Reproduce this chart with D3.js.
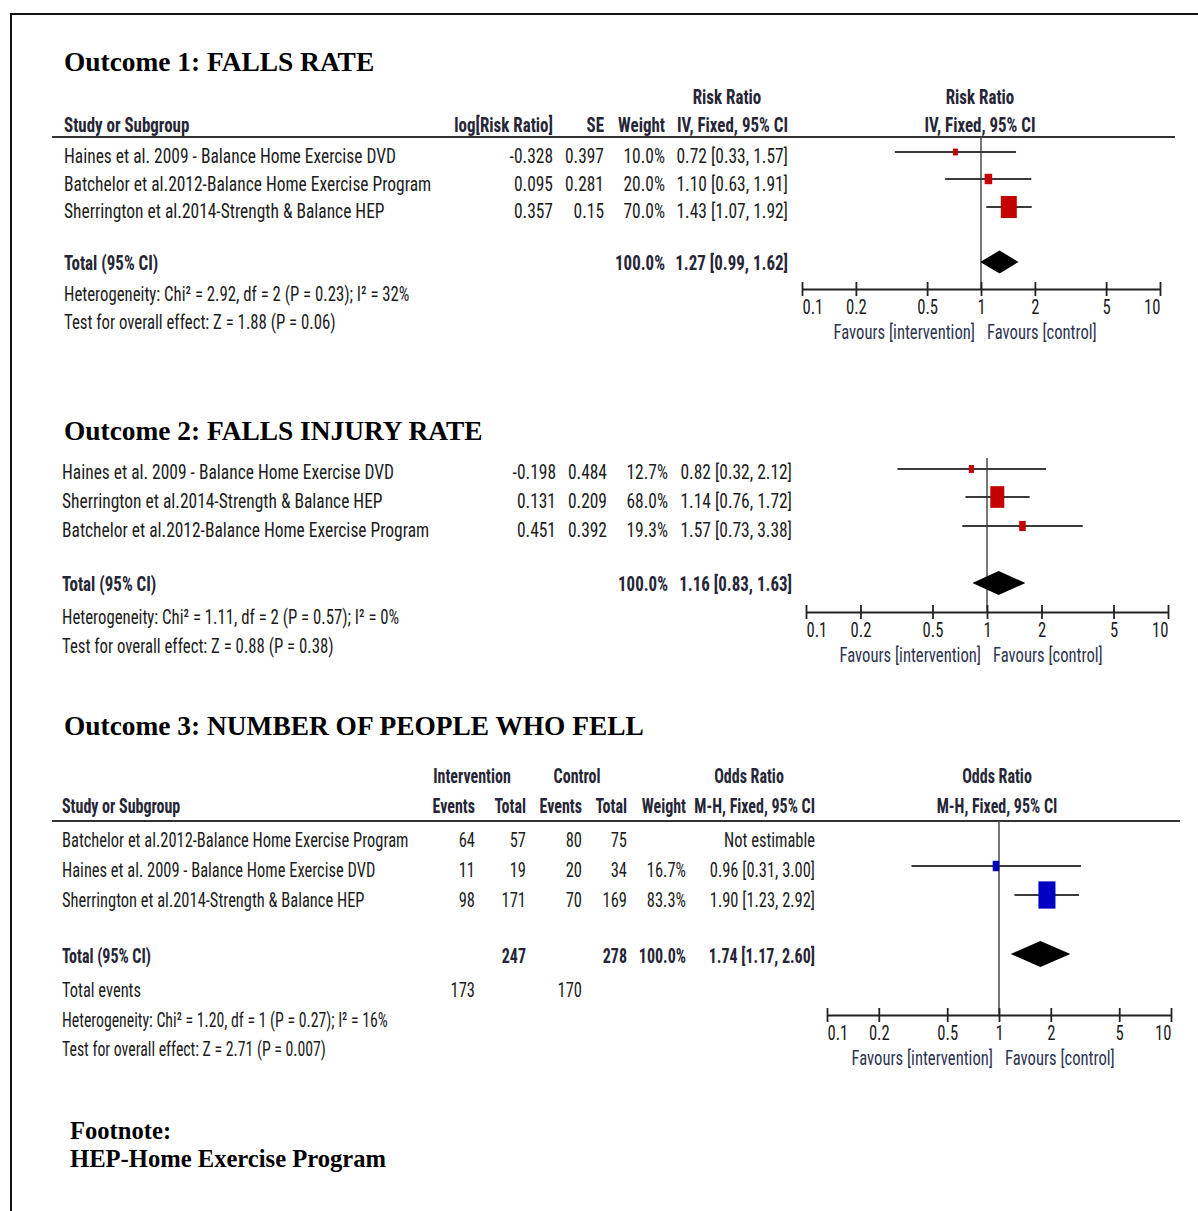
<!DOCTYPE html>
<html><head><meta charset="utf-8">
<script src="https://cdn.jsdelivr.net/npm/d3@7"></script>
<style>
html,body{margin:0;padding:0;background:#fff;}
svg{display:block;}
.nar{font-family:"Liberation Sans Narrow","Arial Narrow","Roboto Condensed",Roboto,sans-serif;}
.ser{font-family:"Liberation Serif","Times New Roman",serif;font-weight:bold;}
</style></head><body>
<svg id="chart" width="1198" height="1211"></svg>
<script>
// ---- Outcome 1: falls rate (inverse variance, risk ratio) ----
const o1Studies = ["Haines et al. 2009 - Balance Home Exercise DVD",
                   "Batchelor et al.2012-Balance Home Exercise Program",
                   "Sherrington et al.2014-Strength & Balance HEP"];
const o1LogRR  = ["-0.328", "0.095", "0.357"];
const o1SE     = ["0.397", "0.281", "0.15"];
const o1Weight = [10.0, 20.0, 70.0];
const o1RR     = [0.72, 1.10, 1.43];
const o1Lo     = [0.33, 0.63, 1.07];
const o1Hi     = [1.57, 1.91, 1.92];
const o1Total  = [1.27, 0.99, 1.62];
const o1Het    = "Heterogeneity: Chi\u00b2 = 2.92, df = 2 (P = 0.23); I\u00b2 = 32%";
const o1Test   = "Test for overall effect: Z = 1.88 (P = 0.06)";

// ---- Outcome 2: falls injury rate ----
const o2Studies = ["Haines et al. 2009 - Balance Home Exercise DVD",
                   "Sherrington et al.2014-Strength & Balance HEP",
                   "Batchelor et al.2012-Balance Home Exercise Program"];
const o2LogRR  = ["-0.198", "0.131", "0.451"];
const o2SE     = ["0.484", "0.209", "0.392"];
const o2Weight = [12.7, 68.0, 19.3];
const o2RR     = [0.82, 1.14, 1.57];
const o2Lo     = [0.32, 0.76, 0.73];
const o2Hi     = [2.12, 1.72, 3.38];
const o2Total  = [1.16, 0.83, 1.63];
const o2Het    = "Heterogeneity: Chi\u00b2 = 1.11, df = 2 (P = 0.57); I\u00b2 = 0%";
const o2Test   = "Test for overall effect: Z = 0.88 (P = 0.38)";

// ---- Outcome 3: number of people who fell (M-H, odds ratio) ----
const o3Studies = ["Batchelor et al.2012-Balance Home Exercise Program",
                   "Haines et al. 2009 - Balance Home Exercise DVD",
                   "Sherrington et al.2014-Strength & Balance HEP"];
const o3IntEvents  = [64, 11, 98];
const o3IntTotal   = [57, 19, 171];
const o3CtrlEvents = [80, 20, 70];
const o3CtrlTotal  = [75, 34, 169];
const o3Weight = [null, 16.7, 83.3];
const o3OR     = [null, 0.96, 1.90];
const o3Lo     = [null, 0.31, 1.23];
const o3Hi     = [null, 3.00, 2.92];
const o3Total  = [1.74, 1.17, 2.60];
const o3TotalN = [247, 278];
const o3TotalEvents = [173, 170];
const o3Het    = "Heterogeneity: Chi\u00b2 = 1.20, df = 1 (P = 0.27); I\u00b2 = 16%";
const o3Test   = "Test for overall effect: Z = 2.71 (P = 0.007)";

// ---- shared axis ----
const tickValues = [0.1, 0.2, 0.5, 1, 2, 5, 10];
const tickLabels = ["0.1", "0.2", "0.5", "1", "2", "5", "10"];

const FS = 21;      // body text size
const SX = 0.832;   // horizontal squeeze of the narrow face
const SB = 0.97;    // extra squeeze for bold text
const SF = 0.96;    // extra squeeze for the statistics footer lines
const INK = "#1c1c1c", HEAD = "#252535", FAV = "#2d3350";

const svg = d3.select("#chart");

function label(g, x, y, s, o = {}) {
  const sx = (o.sx ?? SX) * (o.bold ? SB : 1);
  return g.append("text")
    .attr("class", "nar")
    .attr("transform", `translate(${x},${y}) scale(${sx},1)`)
    .attr("text-anchor", o.anchor || "start")
    .attr("font-size", o.size || FS)
    .attr("font-weight", o.bold ? "bold" : null)
    .attr("fill", o.fill || INK)
    .text(s);
}
function title(x, y, s, size) {
  svg.append("text").attr("class", "ser").attr("x", x).attr("y", y)
    .attr("font-size", size).attr("fill", "#000").text(s);
}
const fmt2 = d3.format(".2f");
const ciText = (e, l, h) => `${fmt2(e)} [${fmt2(l)}, ${fmt2(h)}]`;
const pct = d3.format(".1f");

// forest plot: CI whiskers, weighted boxes, pooled diamond, log axis
function forest(p, est, lo, hi, wt, total, color) {
  const g = svg.append("g");
  const x = d3.scaleLog().domain([0.1, 10]).range([p.x0, p.x1]);
  const bw = d3.scalePow().exponent(0.6).domain([0, 100]).range([0, p.box]);

  g.append("line").attr("x1", x(1)).attr("x2", x(1))
    .attr("y1", p.lineTop).attr("y2", p.axisY)
    .attr("stroke", "#4a4a4a").attr("stroke-width", 1.5);

  const rows = est.map((e, i) => ({ e, l: lo[i], h: hi[i], w: wt[i], y: p.ys[i] }))
    .filter(d => d.e != null);

  g.selectAll(".ci").data(rows).join("line")
    .attr("x1", d => x(d.l)).attr("x2", d => x(d.h))
    .attr("y1", d => d.y).attr("y2", d => d.y)
    .attr("stroke", "#3a3a3a").attr("stroke-width", 2);

  g.selectAll(".bx").data(rows).join("rect")
    .attr("x", d => x(d.e) - bw(d.w) / 2)
    .attr("y", d => d.y - bw(d.w) * p.ratio / 2)
    .attr("width", d => bw(d.w))
    .attr("height", d => bw(d.w) * p.ratio)
    .attr("fill", color);

  const [te, tl, th] = total;
  g.append("polygon")
    .attr("points", [[x(tl), p.dY], [x(te), p.dY - p.dH], [x(th), p.dY], [x(te), p.dY + p.dH]].join(" "))
    .attr("fill", "#000");

  const up = g.append("g").attr("transform", `translate(0,${p.axisY})`)
    .call(d3.axisTop(x).tickValues(tickValues).tickSize(7).tickSizeOuter(0).tickFormat(""));
  up.select(".domain").remove();
  const dn = g.append("g").attr("transform", `translate(0,${p.axisY})`)
    .call(d3.axisBottom(x).tickValues(tickValues).tickSize(7).tickSizeOuter(0).tickPadding(4)
      .tickFormat((d, i) => tickLabels[i]));
  [up, dn].forEach(a => a.selectAll("line,path").attr("stroke", "#222").attr("stroke-width", 1.8));
  const last = tickValues.length - 1;
  dn.selectAll("text").attr("class", "nar").attr("font-size", 20).attr("fill", INK)
    .attr("transform", `scale(${SX},1)`)
    .attr("text-anchor", (d, i) => i === 0 ? "start" : i === last ? "end" : "middle");

  label(g, x(1) - 6, p.axisY + 50, "Favours [intervention]", { anchor: "end", fill: FAV, size: 20 });
  label(g, x(1) + 6, p.axisY + 50, "Favours [control]", { fill: FAV, size: 20 });
  return x;
}

// frame
svg.append("line").attr("x1", 10).attr("x2", 1198).attr("y1", 14).attr("y2", 14)
  .attr("stroke", "#111").attr("stroke-width", 2);
svg.append("line").attr("x1", 11).attr("x2", 11).attr("y1", 14).attr("y2", 1211)
  .attr("stroke", "#111").attr("stroke-width", 2);

const TS = 27.4;

// ================= Outcome 1 =================
title(64, 71, "Outcome 1: FALLS RATE", TS);
{
  const g = svg.append("g");
  label(g, 727, 104, "Risk Ratio", { anchor: "middle", bold: true, fill: HEAD });
  label(g, 980, 104, "Risk Ratio", { anchor: "middle", bold: true, fill: HEAD });
  label(g, 64, 132, "Study or Subgroup", { bold: true, fill: HEAD });
  label(g, 553, 132, "log[Risk Ratio]", { anchor: "end", bold: true, fill: HEAD });
  label(g, 604, 132, "SE", { anchor: "end", bold: true, fill: HEAD });
  label(g, 665, 132, "Weight", { anchor: "end", bold: true, fill: HEAD });
  label(g, 788, 132, "IV, Fixed, 95% CI", { anchor: "end", bold: true, fill: HEAD });
  label(g, 980, 132, "IV, Fixed, 95% CI", { anchor: "middle", bold: true, fill: HEAD });
  g.append("line").attr("x1", 52).attr("x2", 1175).attr("y1", 137).attr("y2", 137)
    .attr("stroke", "#333").attr("stroke-width", 2);

  const rowsY = [163, 191, 218];
  o1Studies.forEach((s, i) => {
    label(g, 64, rowsY[i], s);
    label(g, 553, rowsY[i], o1LogRR[i], { anchor: "end" });
    label(g, 604, rowsY[i], o1SE[i], { anchor: "end" });
    label(g, 665, rowsY[i], pct(o1Weight[i]) + "%", { anchor: "end" });
    label(g, 788, rowsY[i], ciText(o1RR[i], o1Lo[i], o1Hi[i]), { anchor: "end" });
  });
  label(g, 64, 270, "Total (95% CI)", { bold: true, fill: HEAD });
  label(g, 665, 270, pct(d3.sum(o1Weight)) + "%", { anchor: "end", bold: true, fill: HEAD });
  label(g, 788, 270, ciText(...o1Total), { anchor: "end", bold: true, fill: HEAD });
  label(g, 64, 301, o1Het, { sx: SX * SF });
  label(g, 64, 329, o1Test, { sx: SX * SF });

  forest({ x0: 802, x1: 1160, ys: [152, 179, 207], dY: 262, dH: 11.5, axisY: 289, lineTop: 137,
           box: 19.8, ratio: 1.38 }, o1RR, o1Lo, o1Hi, o1Weight, o1Total, "#c40000");
}

// ================= Outcome 2 =================
title(64, 440, "Outcome 2: FALLS INJURY RATE", TS);
{
  const g = svg.append("g");
  const rowsY = [479, 508, 537];
  o2Studies.forEach((s, i) => {
    label(g, 62, rowsY[i], s);
    label(g, 556, rowsY[i], o2LogRR[i], { anchor: "end" });
    label(g, 607, rowsY[i], o2SE[i], { anchor: "end" });
    label(g, 668, rowsY[i], pct(o2Weight[i]) + "%", { anchor: "end" });
    label(g, 792, rowsY[i], ciText(o2RR[i], o2Lo[i], o2Hi[i]), { anchor: "end" });
  });
  label(g, 62, 591, "Total (95% CI)", { bold: true, fill: HEAD });
  label(g, 668, 591, pct(d3.sum(o2Weight)) + "%", { anchor: "end", bold: true, fill: HEAD });
  label(g, 792, 591, ciText(...o2Total), { anchor: "end", bold: true, fill: HEAD });
  label(g, 62, 624, o2Het, { sx: SX * SF });
  label(g, 62, 653, o2Test, { sx: SX * SF });

  forest({ x0: 806, x1: 1168, ys: [469, 497, 526], dY: 583, dH: 12, axisY: 612, lineTop: 458,
           box: 17.6, ratio: 1.55 }, o2RR, o2Lo, o2Hi, o2Weight, o2Total, "#c40000");
}

// ================= Outcome 3 =================
title(64, 735, "Outcome 3: NUMBER OF PEOPLE WHO FELL", TS);
{
  const g = svg.append("g");
  const s3 = 0.785;
  const H = { bold: true, fill: HEAD, sx: s3 };
  label(g, 472, 783, "Intervention", { ...H, anchor: "middle" });
  label(g, 577, 783, "Control", { ...H, anchor: "middle" });
  label(g, 749, 783, "Odds Ratio", { ...H, anchor: "middle" });
  label(g, 997, 783, "Odds Ratio", { ...H, anchor: "middle" });
  label(g, 62, 813, "Study or Subgroup", H);
  label(g, 475, 813, "Events", { ...H, anchor: "end" });
  label(g, 526, 813, "Total", { ...H, anchor: "end" });
  label(g, 582, 813, "Events", { ...H, anchor: "end" });
  label(g, 627, 813, "Total", { ...H, anchor: "end" });
  label(g, 686, 813, "Weight", { ...H, anchor: "end" });
  label(g, 815, 813, "M-H, Fixed, 95% CI", { ...H, anchor: "end" });
  label(g, 997, 813, "M-H, Fixed, 95% CI", { ...H, anchor: "middle" });
  g.append("line").attr("x1", 52).attr("x2", 1180).attr("y1", 821).attr("y2", 821)
    .attr("stroke", "#333").attr("stroke-width", 2);

  const R = { anchor: "end", sx: s3 };
  const rowsY = [847, 877, 907];
  o3Studies.forEach((s, i) => {
    label(g, 62, rowsY[i], s, { sx: s3 });
    label(g, 475, rowsY[i], o3IntEvents[i], R);
    label(g, 526, rowsY[i], o3IntTotal[i], R);
    label(g, 582, rowsY[i], o3CtrlEvents[i], R);
    label(g, 627, rowsY[i], o3CtrlTotal[i], R);
    if (o3OR[i] == null) {
      label(g, 815, rowsY[i], "Not estimable", R);
    } else {
      label(g, 686, rowsY[i], pct(o3Weight[i]) + "%", R);
      label(g, 815, rowsY[i], ciText(o3OR[i], o3Lo[i], o3Hi[i]), R);
    }
  });
  label(g, 62, 963, "Total (95% CI)", H);
  label(g, 526, 963, o3TotalN[0], { ...H, anchor: "end" });
  label(g, 627, 963, o3TotalN[1], { ...H, anchor: "end" });
  label(g, 686, 963, pct(d3.sum(o3Weight.filter(w => w != null))) + "%", { ...H, anchor: "end" });
  label(g, 815, 963, ciText(...o3Total), { ...H, anchor: "end" });
  label(g, 62, 997, "Total events", { sx: s3 });
  label(g, 475, 997, o3TotalEvents[0], R);
  label(g, 582, 997, o3TotalEvents[1], R);
  label(g, 62, 1027, o3Het, { sx: s3 * SF });
  label(g, 62, 1056, o3Test, { sx: s3 * SF });

  forest({ x0: 827, x1: 1171, ys: [null, 866, 895], dY: 954, dH: 13, axisY: 1015, lineTop: 821,
           box: 19, ratio: 1.6 }, o3OR, o3Lo, o3Hi, o3Weight, o3Total, "#0000c4");
}

// footnote
title(70, 1139, "Footnote:", 24.6);
title(70, 1167, "HEP-Home Exercise Program", 24.6);
</script>
</body></html>
